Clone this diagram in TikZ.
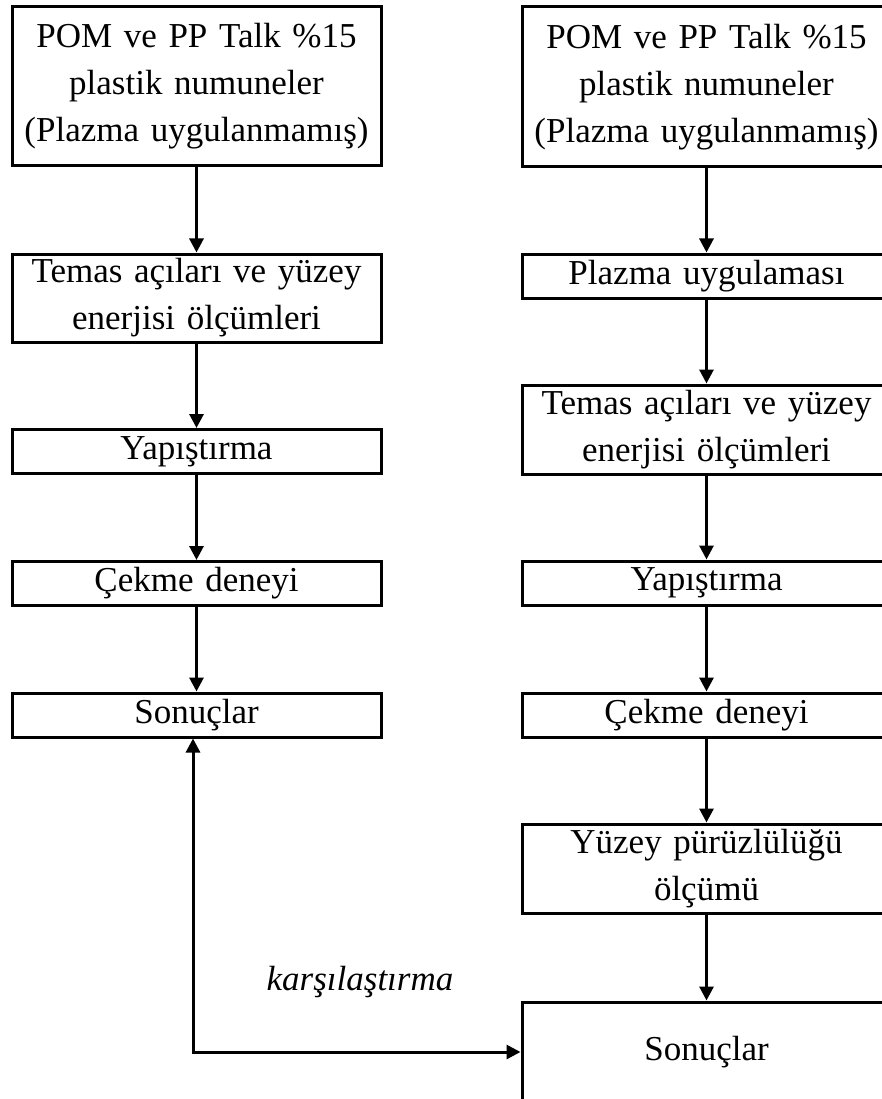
\documentclass[tikz,border=0pt]{standalone}
\usepackage{fontspec}
\setmainfont{Liberation Serif}
\usetikzlibrary{positioning, arrows.meta}

\begin{document}
\begin{tikzpicture}[x=1pt,y=-1pt,
    every node/.style={font=\fontsize{35pt}{47pt}\selectfont},
    box/.style={draw,line width=3pt,inner sep=0pt,text width=369pt,align=center,minimum height=44pt},
    flow/.style={line width=3pt,-{Triangle[width=14pt,length=14pt]}}]
    \useasboundingbox (0,0) rectangle (882,1099);
    \clip (0,0) rectangle (882,1099);
    % sol sutun: plazma uygulanmamis numuneler
    \node[box,minimum height=159pt] (L1) at (196.5,86.5) {POM ve PP Talk \%15\\plastik numuneler\\(Plazma uygulanmamış)};
    \node[box,minimum height=88pt] (L2) at (196.5,298) {Temas açıları ve yüzey\\enerjisi ölçümleri};
    \node[box] (L3) at (196.5,451.5) {Yapıştırma};
    \node[box] (L4) at (196.5,583.5) {Çekme deneyi};
    \node[box] (L5) at (196.5,715) {Sonuçlar};

    % sag sutun: plazma uygulanmis numuneler
    \node[box,minimum height=160pt] (R1) at (706.5,87) {POM ve PP Talk \%15\\plastik numuneler\\(Plazma uygulanmamış)};
    \node[box] (R2) at (706.5,276) {Plazma uygulaması};
    \node[box,minimum height=89pt] (R3) at (706.5,429.5) {Temas açıları ve yüzey\\enerjisi ölçümleri};
    \node[box] (R4) at (706.5,583) {Yapıştırma};
    \node[box] (R5) at (706.5,715) {Çekme deneyi};
    \node[box,minimum height=89pt] (R6) at (706.5,868.5) {Yüzey pürüzlülüğü\\ölçümü};
    \node[box,minimum height=100pt] (R7) at (706.5,1052) {Sonuçlar};

    \node (kars) at (360,982) {\itshape karşılaştırma};

    \draw[flow] (L1) -- (L2);
    \draw[flow] (L2) -- (L3);
    \draw[flow] (L3) -- (L4);
    \draw[flow] (L4) -- (L5);

    \draw[flow] (R1) -- (R2);
    \draw[flow] (R2) -- (R3);
    \draw[flow] (R3) -- (R4);
    \draw[flow] (R4) -- (R5);
    \draw[flow] (R5) -- (R6);
    \draw[flow] (R6) -- (R7);

    \draw[flow,{Triangle[width=14pt,length=14pt]}-{Triangle[width=14pt,length=14pt]}] ([xshift=-3.5pt]L5.south) |- (R7.west);
\end{tikzpicture}
\end{document}
